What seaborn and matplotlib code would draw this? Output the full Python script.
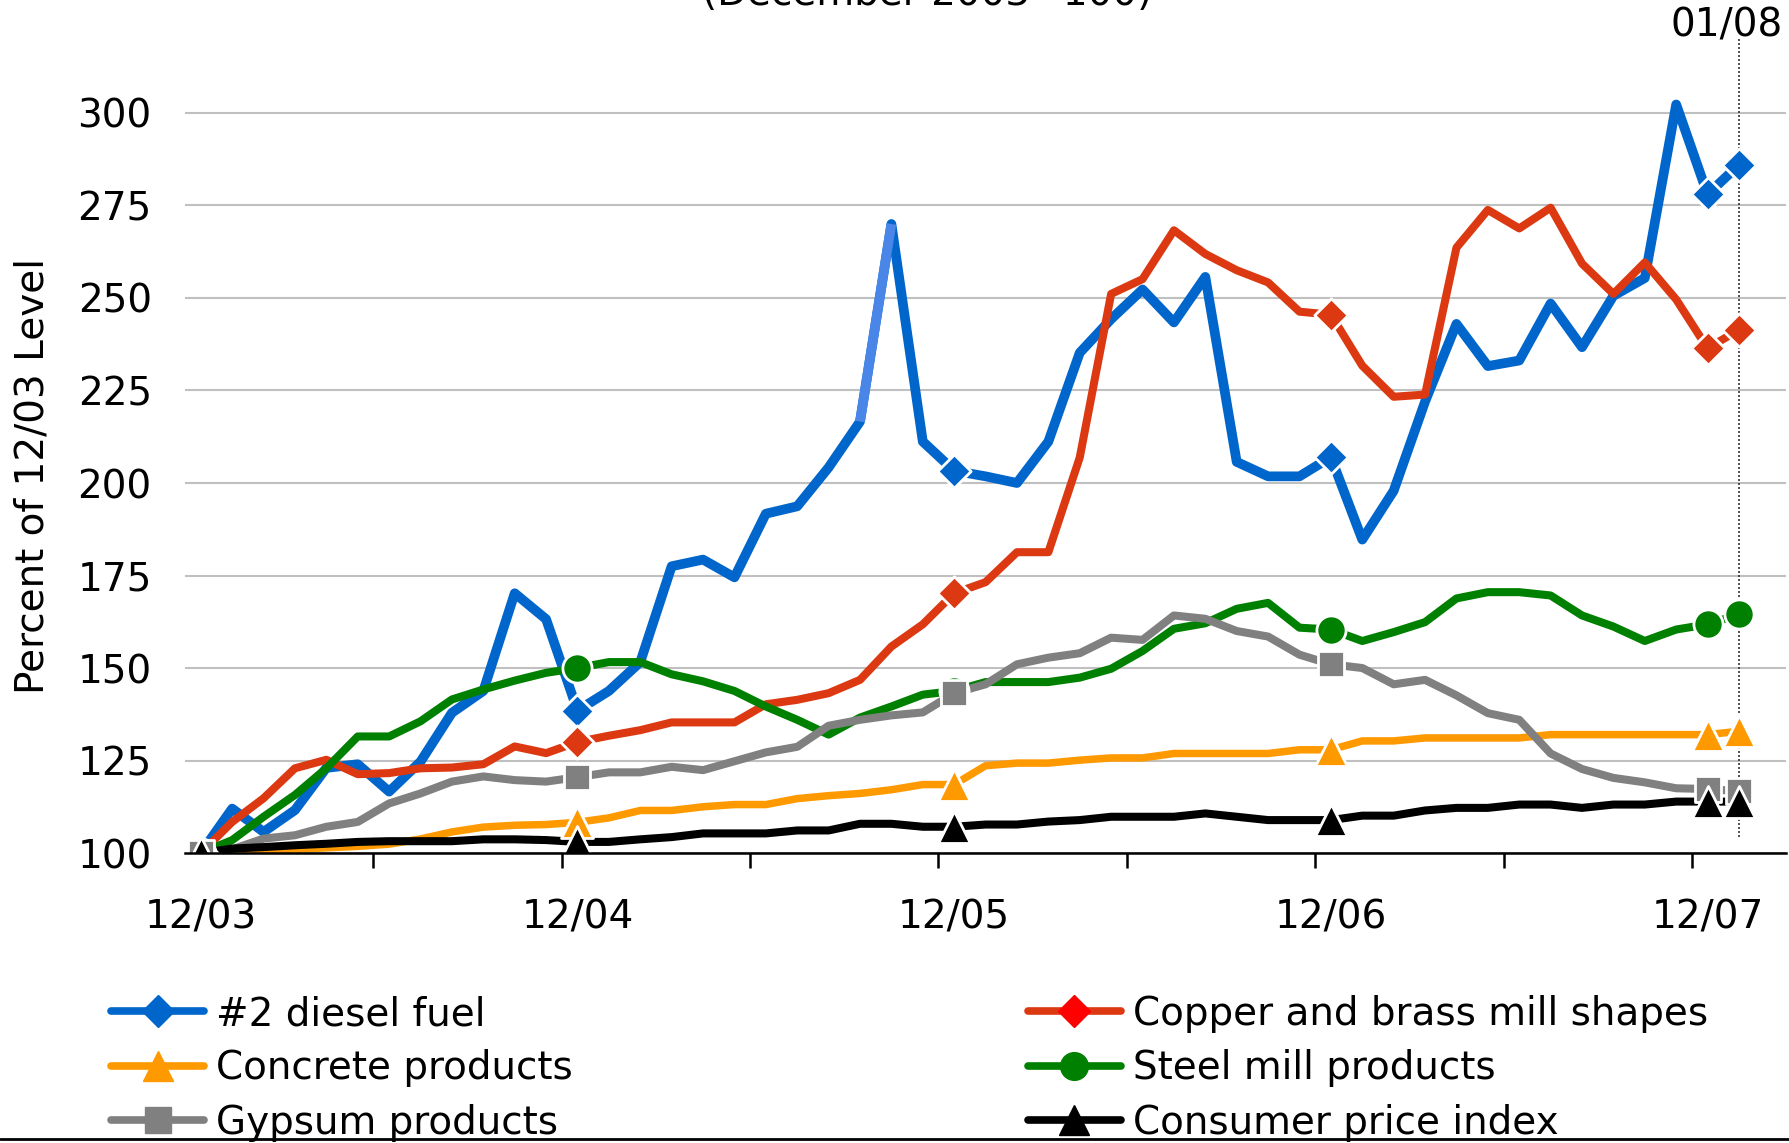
import numpy as np
import matplotlib
matplotlib.use("Agg")
import matplotlib.pyplot as plt
from matplotlib.lines import Line2D
import seaborn as sns

# Valores (indice mensual, 12/03 = 100), de 12/03 a 01/08
diesel = [100, 112, 105.7, 111.6, 123, 124, 116.6, 124.7, 137.9, 143.8,
          170.2, 163.2, 138.5, 143.8, 151.6, 177.5, 179.3, 174.5, 191.7, 193.7,
          204.2, 216.6, 270, 211.2, 203.3, 201.8, 200, 211.2, 235.2, 244.3,
          252.3, 243.4, 255.7, 205.7, 201.8, 201.8, 207, 184.7, 197.9, 222,
          243, 231.6, 233.1, 248.5, 236.7, 250.6, 255.4, 302.3, 278, 286]
copper = [100, 108.4, 114.8, 122.9, 125.2, 121.3, 121.6, 122.9, 123.1, 124,
          128.8, 127, 130, 131.7, 133.2, 135.3, 135.3, 135.3, 140.2, 141.4,
          143.2, 146.8, 155.8, 161.8, 170.2, 173.2, 181.3, 181.3, 206.9, 251.1,
          255.1, 268.3, 261.9, 257.5, 254.2, 246.3, 245.5, 231.7, 223.3, 223.9,
          263.6, 273.8, 268.8, 274.4, 259.3, 251.1, 259.6, 249.6, 236.4, 241.4]
concrete = [100, 100.3, 100.6, 101, 101.4, 101.8, 102.4, 103.8, 105.7, 107,
            107.5, 107.7, 108.3, 109.5, 111.5, 111.5, 112.5, 113.1, 113.1, 114.7,
            115.5, 116.1, 117.1, 118.5, 118.5, 123.6, 124.3, 124.3, 125.1, 125.7,
            125.7, 126.9, 126.9, 126.9, 126.9, 127.9, 127.9, 130.3, 130.3, 131.1,
            131.1, 131.1, 131.1, 132, 132, 132, 132, 132, 132, 132.9]
steel = [100, 103.5, 109.8, 115.7, 122.9, 131.5, 131.5, 135.6, 141.5, 144.2,
         146.6, 148.7, 150, 151.6, 151.6, 148.3, 146.4, 143.8, 139.6, 136,
         132, 136.6, 139.6, 142.8, 143.8, 146.2, 146.2, 146.2, 147.4, 149.8,
         154.6, 160.6, 162.1, 166, 167.6, 160.9, 160.4, 157.3, 159.7, 162.4,
         168.8, 170.5, 170.5, 169.6, 164.2, 161.2, 157.3, 160.4, 161.8, 164.5]
gypsum = [100, 101, 103.9, 104.8, 107.1, 108.4, 113.4, 116.1, 119.3, 120.7,
          119.7, 119.3, 120.5, 121.8, 121.8, 123.3, 122.4, 124.8, 127.2, 128.7,
          134.4, 136, 137.2, 138, 143.2, 145.6, 151, 152.8, 154, 158.2,
          157.6, 164.2, 163.3, 160, 158.5, 153.6, 151, 150, 145.6, 146.8,
          142.6, 137.8, 136, 126.9, 122.7, 120.3, 119.1, 117.5, 117.3, 116.7]
cpi = [100, 101.2, 101.6, 102.1, 102.5, 103, 103.2, 103.2, 103.2, 103.7,
       103.7, 103.5, 103, 103, 103.7, 104.3, 105.3, 105.3, 105.3, 106.1,
       106.1, 107.9, 107.9, 107.1, 107.1, 107.7, 107.7, 108.5, 108.9, 109.8,
       109.8, 109.8, 110.7, 109.8, 108.9, 108.9, 108.9, 110.1, 110.1, 111.5,
       112.2, 112.2, 113.1, 113.1, 112.2, 113.1, 113.1, 113.9, 113.9, 113.9]

tick_pos = [0, 12, 24, 36, 48]
tick_labels = ["12/03", "12/04", "12/05", "12/06", "12/07"]
y_ticks = [100, 125, 150, 175, 200, 225, 250, 275, 300]
marker_idx = [0, 12, 24, 36, 48, 49]   # diciembres + ultimo mes

# nombre, datos, color linea, color marcador leyenda, marcador, tamano, grosor
series = [
    ("#2 diesel fuel", diesel, "#0066CC", "#0066CC", "D", 17, 7.0),
    ("Copper and brass mill shapes", copper, "#DC3912", "#FF0000", "D", 17, 5.8),
    ("Concrete products", concrete, "#FF9900", "#FF9900", "^", 23, 5.4),
    ("Steel mill products", steel, "#008000", "#008000", "o", 21, 5.8),
    ("Gypsum products", gypsum, "#808080", "#808080", "s", 19, 5.8),
    ("Consumer price index", cpi, "#000000", "#000000", "^", 23, 5.8),
]

sns.set_theme(style="white")
plt.rcParams["font.family"] = ["DejaVu Sans"]
plt.rcParams["text.color"] = "black"
plt.rcParams["xtick.color"] = "black"
plt.rcParams["ytick.color"] = "black"
plt.rcParams["axes.labelcolor"] = "black"
FS = 28

fig = plt.figure(figsize=(17.9, 11.43), dpi=100)
ax = fig.add_axes([0.1034, 0.2537, 0.8944, 0.7122])

x = np.arange(len(diesel))

# lineas
for k, (name, vals, col, _, _, _, lw) in enumerate(series):
    sns.lineplot(x=x, y=vals, color=col, lw=lw, ax=ax, zorder=3 + k,
                 solid_joinstyle="round", solid_capstyle="round")

# tramo azul claro del pico de 2005
ax.plot(x[21:23], diesel[21:23], color="#4A86E8", lw=7.0, zorder=3.5,
        solid_capstyle="butt")

# marcadores solo en diciembre y en 01/08
for k, (name, vals, col, _, mk, ms, _) in enumerate(series):
    xs = [x[i] for i in marker_idx]
    ys = [vals[i] for i in marker_idx]
    sns.scatterplot(x=xs, y=ys, marker=mk, s=ms ** 2, color=col,
                    edgecolor="white", linewidth=2.0, ax=ax, zorder=10 + k)

# linea punteada de 01/08
ax.axvline(49, ymin=0.02, ymax=1.0, color="#333333", lw=1.2,
           ls=(0, (1.2, 1.2)), zorder=2)

ax.set_xlim(-0.5, 50.5)
ax.set_ylim(100, 320)
ax.set_yticks(y_ticks)
ax.set_yticklabels([str(v) for v in y_ticks], fontsize=FS)
ax.set_xticks(tick_pos)
ax.set_xticklabels(tick_labels, fontsize=FS)
ax.set_xticks(np.arange(5.5, 48, 6), minor=True)
ax.tick_params(axis="x", which="major", length=0, pad=33)
ax.tick_params(axis="x", which="minor", bottom=True, length=11, width=1.8,
               color="black", direction="out")
ax.tick_params(axis="y", length=0, pad=24)
ax.set_xlabel("")
ax.set_ylabel("Percent of 12/03 Level", fontsize=FS)
ax.yaxis.set_label_coords(-0.0837, 0.463)

ax.grid(axis="y", color="#C0C0C0", lw=1.5)
ax.grid(axis="x", visible=False)
ax.set_axisbelow(True)
for s in ["left", "top", "right"]:
    ax.spines[s].set_visible(False)
ax.spines["bottom"].set_color("black")
ax.spines["bottom"].set_linewidth(1.8)
ax.spines["bottom"].set_zorder(20)

# textos superiores
fig.text(927 / 1790, 1 - 5 / 1143, "(December 2003=100)", ha="center",
         va="baseline", fontsize=FS)
fig.text(1727 / 1790, 1 - 25 / 1143, "01/08", ha="center", va="center",
         fontsize=FS)

# leyenda en dos columnas
handles = []
labels = []
order = [0, 2, 4, 1, 3, 5]
for k in order:
    name, vals, col, mcol, mk, ms, lw = series[k]
    handles.append(Line2D([], [], color=col, lw=5.5, marker=mk,
                          markersize=ms * 0.95, markerfacecolor=mcol,
                          markeredgecolor=mcol))
    labels.append(name)
fig.legend(handles, labels, loc="upper left",
           bbox_to_anchor=(111 / 1790, 1 - 995 / 1143), ncol=2,
           frameon=False, fontsize=FS, borderpad=0, borderaxespad=0,
           handlelength=2.4, handletextpad=0.3, columnspacing=11.7,
           labelspacing=0.42)

fig.add_artist(Line2D([0, 1], [1 - 1139 / 1143] * 2, transform=fig.transFigure,
                      color="black", lw=2))

fig.savefig("out.png", dpi=100)
